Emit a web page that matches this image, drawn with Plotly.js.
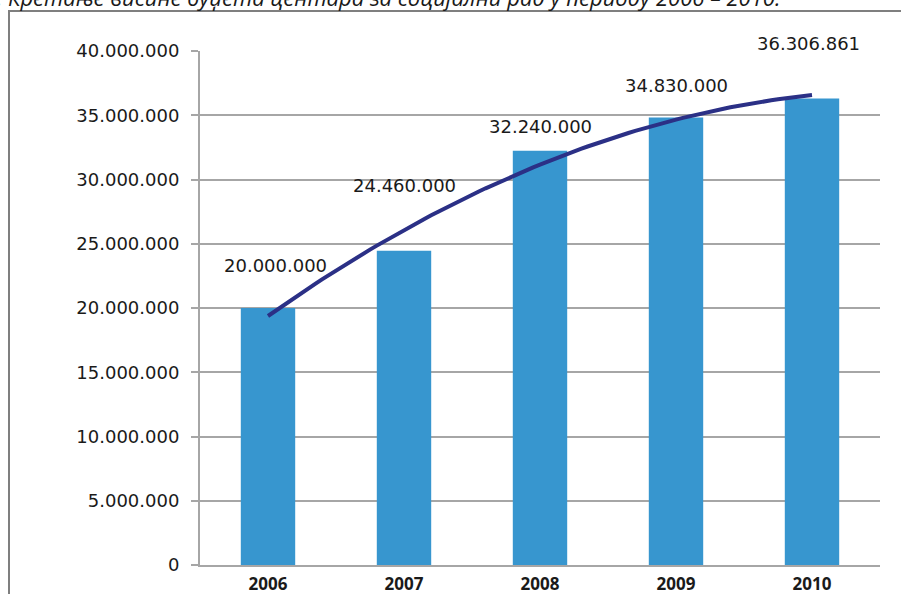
<!DOCTYPE html>
<html>
<head>
<meta charset="utf-8">
<script src="https://cdn.plot.ly/plotly-3.0.1.min.js"></script>
<style>html,body{margin:0;padding:0;background:#fff;}#chart{width:901px;height:594px;}</style>
</head>
<body>
<div id="chart"></div>
<script>
// ---- data ----
const years = ["2006", "2007", "2008", "2009", "2010"];
const budget = [20000000, 24460000, 32240000, 34830000, 36306861];
const titleText = "Графикон 1. Кретање висине буџета центара за социјални рад у периоду 2006 – 2010.";

// ---- styling / placement (not data) ----
const labelShiftY = [43, 65, 24, 32, 55];
const labelShiftX = [7, 0, 0, 0, -4];

const W = 901, H = 594;
const M = {l: 200, r: 21, t: 51, b: 29};
const pw = W - M.l - M.r, ph = H - M.t - M.b;
const px = v => (v - M.l) / pw;
const py = v => (H - M.b - v) / ph;

const xi = years.map((_, i) => i);

// quadratic (polynomial order 2) trendline, least squares from the data
function polyFit2(x, y) {
  let n = x.length, s = [0,0,0,0,0], t = [0,0,0];
  for (let i = 0; i < n; i++) {
    let p = 1;
    for (let k = 0; k < 5; k++) { s[k] += p; if (k < 3) t[k] += p * y[i]; p *= x[i]; }
  }
  const A = [[s[0],s[1],s[2]],[s[1],s[2],s[3]],[s[2],s[3],s[4]]];
  const b = t.slice();
  for (let i = 0; i < 3; i++) {
    for (let j = i + 1; j < 3; j++) {
      const f = A[j][i] / A[i][i];
      for (let k = i; k < 3; k++) A[j][k] -= f * A[i][k];
      b[j] -= f * b[i];
    }
  }
  const c = [0,0,0];
  for (let i = 2; i >= 0; i--) {
    let sum = b[i];
    for (let k = i + 1; k < 3; k++) sum -= A[i][k] * c[k];
    c[i] = sum / A[i][i];
  }
  return c;
}
const coef = polyFit2(xi, budget);
const trendX = [], trendY = [];
for (let k = 0; k <= 80; k++) {
  const x = k * (xi.length - 1) / 80;
  trendX.push(x);
  trendY.push(coef[0] + coef[1] * x + coef[2] * x * x);
}

const fmt = v => String(v).replace(/\B(?=(\d{3})+(?!\d))/g, ".");

const traces = [
  {
    type: "bar", x: xi, y: budget, width: 0.4,
    marker: {color: "#3796CF"}, hoverinfo: "skip"
  },
  {
    type: "scatter", mode: "lines", x: trendX, y: trendY,
    line: {color: "#2B3086", width: 4}, hoverinfo: "skip"
  }
];

const annotations = budget.map((v, i) => ({
  x: i, y: v, xref: "x", yref: "y", text: fmt(v), showarrow: false,
  xshift: labelShiftX[i], yshift: labelShiftY[i],
  font: {family: "DejaVu Sans", size: 18, color: "#1a1a1a"}
}));
annotations.push({
  xref: "paper", yref: "paper", x: px(782), y: py(14),
  xanchor: "right", yanchor: "bottom", showarrow: false,
  text: "<i>" + titleText + "</i>",
  font: {family: "Open Sans", size: 22, color: "#1a1a1a"}
});

const layout = {
  width: W, height: H,
  margin: M,
  paper_bgcolor: "#fff", plot_bgcolor: "#fff",
  showlegend: false,
  separators: ",.",
  xaxis: {
    type: "linear", range: [-0.5, 4.5],
    tickvals: xi, ticktext: years,
    showgrid: false, zeroline: false,
    showline: true, linecolor: "#A6A6A6", linewidth: 2,
    ticks: "", ticklabelstandoff: 3,
    tickfont: {family: "Open Sans", size: 17, color: "#1a1a1a", weight: "bold"}
  },
  yaxis: {
    range: [0, 40000000], tickvals: [0,5e6,10e6,15e6,20e6,25e6,30e6,35e6,40e6],
    tickformat: ",d",
    showgrid: true, gridcolor: "#A6A6A6", gridwidth: 2,
    zeroline: false,
    showline: true, linecolor: "#A6A6A6", linewidth: 2,
    ticks: "outside", ticklen: 7, tickwidth: 2, tickcolor: "#A6A6A6",
    ticklabelstandoff: 8,
    tickfont: {family: "DejaVu Sans", size: 18, color: "#1a1a1a"}
  },
  annotations: annotations,
  shapes: [{
    type: "rect", xref: "paper", yref: "paper",
    x0: px(9), x1: px(906), y0: py(600), y1: py(11),
    line: {color: "#7F7F7F", width: 2}, fillcolor: "rgba(0,0,0,0)", layer: "below"
  }]
};

Plotly.newPlot("chart", traces, layout, {displayModeBar: false, staticPlot: true});
</script>
</body>
</html>
